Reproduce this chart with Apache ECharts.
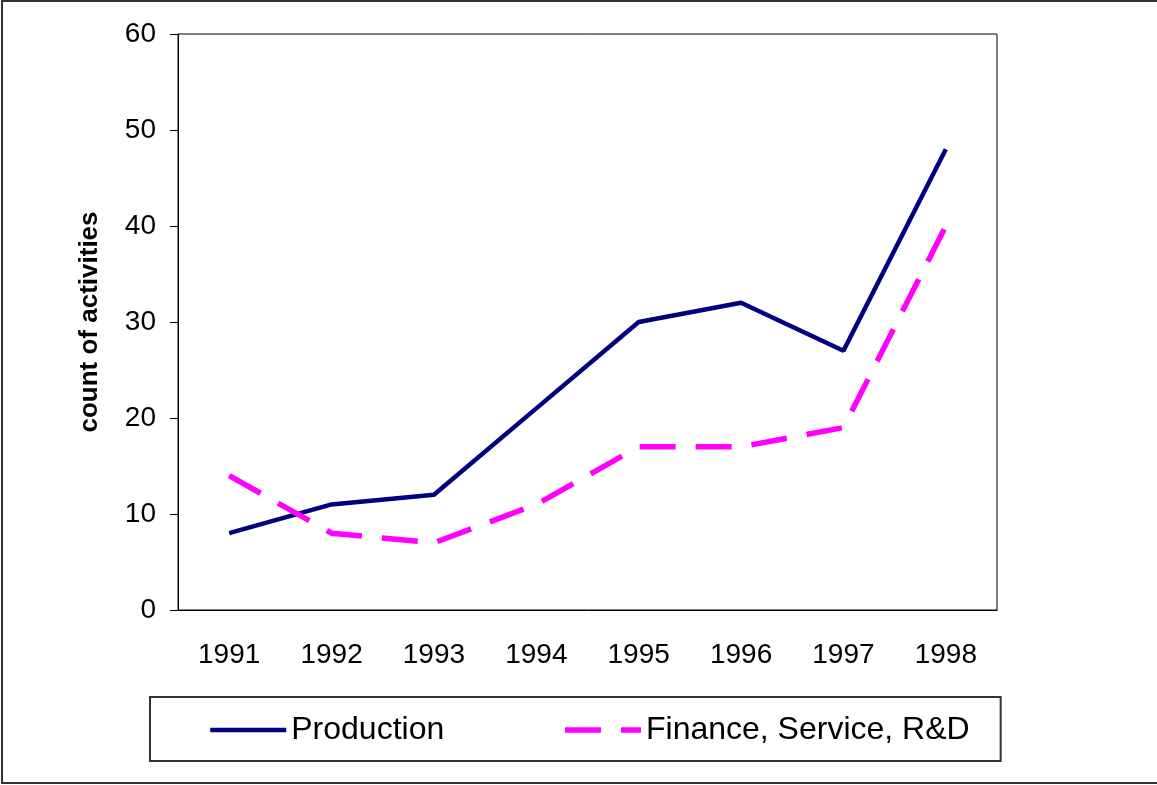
<!DOCTYPE html>
<html lang="en">
<head>
<meta charset="UTF-8">
<title>Activities by year</title>
<script src="https://cdn.jsdelivr.net/npm/echarts@6/dist/echarts.min.js"></script>
<style>
  html, body { margin: 0; padding: 0; background: #fff; }
</style>
</head>
<body>
<div id="main" style="width: 1157px;height:785px;"></div>

<script type="text/javascript">
  // data
  var years = ['1991', '1992', '1993', '1994', '1995', '1996', '1997', '1998'];
  var production = [8, 11, 12, 21, 30, 32, 27, 48];
  var finance = [14, 8, 7, 11, 17, 17, 19, 40];
  var yTicks = { min: 0, max: 60, interval: 10 };

  var font = 'Liberation Sans, Arial, sans-serif';
  var myChart = echarts.init(document.getElementById('main'));

  var option = {
    backgroundColor: '#fff',
    animation: false,
    textStyle: { fontFamily: font },
    graphic: [{
      type: 'rect',
      shape: { x: 2, y: 1, width: 1170, height: 782 },
      style: { fill: 'none', stroke: '#333', lineWidth: 2 },
      z: -1
    }],
    grid: {
      left: 178, top: 34, right: 160, bottom: 175,
      show: true, borderColor: '#000', borderWidth: 1
    },
    legend: {
      left: 150, top: 697,
      padding: [17, 31, 15, 58],
      backgroundColor: '#fff',
      borderColor: '#333', borderWidth: 2,
      itemWidth: 76, itemHeight: 14, itemGap: 118,
      itemStyle: { opacity: 0 },
      textStyle: { fontSize: 32, color: '#000', fontFamily: font },
      data: [
        { name: 'Production', lineStyle: { color: '#000080', width: 4.5 } },
        { name: 'Finance, Service, R&D', lineStyle: { color: '#ff00ff', width: 5.5, type: [36, 20] } }
      ]
    },
    xAxis: {
      type: 'category',
      data: years,
      boundaryGap: true,
      name: 'Year',
      nameLocation: 'middle',
      nameGap: 84,
      nameTextStyle: { fontSize: 20, fontWeight: 'bold', color: '#bbb' },
      axisLine: { lineStyle: { color: '#000', width: 1 } },
      axisTick: { length: 8, lineStyle: { color: '#000' } },
      axisLabel: { fontSize: 28, color: '#000', margin: 31 },
      splitLine: { show: false }
    },
    yAxis: {
      type: 'value',
      min: yTicks.min, max: yTicks.max, interval: yTicks.interval,
      name: 'count of activities',
      nameLocation: 'middle',
      nameGap: 75,
      nameTextStyle: { fontSize: 26, fontWeight: 'bold', color: '#000' },
      axisLine: { show: true, lineStyle: { color: '#000', width: 1 } },
      axisTick: { show: true, length: 8, lineStyle: { color: '#000' } },
      axisLabel: { fontSize: 28, color: '#000', margin: 22 },
      splitLine: { show: false }
    },
    series: [
      {
        name: 'Production',
        type: 'line',
        data: production,
        symbol: 'none',
        color: '#000080',
        lineStyle: { color: '#000080', width: 4.5 }
      },
      {
        name: 'Finance, Service, R&D',
        type: 'line',
        data: finance,
        symbol: 'none',
        color: '#ff00ff',
        lineStyle: { color: '#ff00ff', width: 5.5, type: [36, 20], cap: 'butt' }
      }
    ]
  };

  myChart.setOption(option);
</script>
</body>
</html>
